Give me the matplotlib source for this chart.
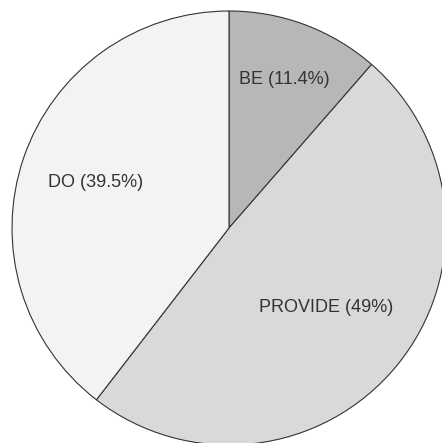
import numpy as np
import matplotlib.pyplot as plt

labels = ["BE", "PROVIDE", "DO"]
shares = [11.4, 49.0, 39.5]
pct_text = ["11.4%", "49%", "39.5%"]
colors = ["#b7b7b7", "#d9d9d9", "#f3f3f3"]
label_dist = [0.73, 0.58, 0.65]

W, H = 442, 443
fig = plt.figure(figsize=(W / 100, H / 100), dpi=100)
ax = fig.add_axes([0, 0, 1, 1])

cx, cy, r = 229, H - 228, 217
wedges, _ = ax.pie(shares, colors=colors, startangle=90, counterclock=False,
                   center=(cx, cy), radius=r, normalize=True,
                   wedgeprops=dict(edgecolor="#333333", linewidth=0.8))

for w, lab, pct, d in zip(wedges, labels, pct_text, label_dist):
    ang = np.deg2rad((w.theta1 + w.theta2) / 2)
    ax.text(cx + d * r * np.cos(ang), cy + d * r * np.sin(ang),
            f"{lab} ({pct})", ha="center", va="center",
            fontsize=13, color="#333333", family="Liberation Sans")

ax.set_xlim(0, W)
ax.set_ylim(0, H)
ax.set_aspect("equal")
ax.axis("off")

fig.savefig("out.png", dpi=100)
